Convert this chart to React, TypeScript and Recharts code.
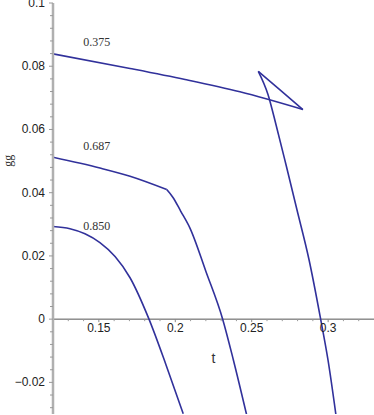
import React from "react";
import {
  LineChart,
  Line,
  XAxis,
  YAxis,
  ReferenceLine,
  ReferenceDot,
} from "recharts";

// swallowtail curve (0.375) split in its three branches
const upperBranch = [
  { t: 0.12, g: 0.0839 },
  { t: 0.1704, g: 0.0793 },
  { t: 0.2064, g: 0.0758 },
  { t: 0.2423, g: 0.0719 },
  { t: 0.2835, g: 0.0663 },
];
const returnBranch = [
  { t: 0.2835, g: 0.0663 },
  { t: 0.2685, g: 0.0725 },
  { t: 0.2543, g: 0.0784 },
];
const dropBranch = [
  { t: 0.2543, g: 0.0784 },
  { t: 0.2607, g: 0.071 },
  { t: 0.2659, g: 0.0615 },
  { t: 0.2724, g: 0.0489 },
  { t: 0.2796, g: 0.0346 },
  { t: 0.2875, g: 0.0188 },
  { t: 0.2951, g: 0 },
  { t: 0.2999, g: -0.0129 },
  { t: 0.3051, g: -0.0303 },
];
// 0.687 curve: gentle part up to the kink, then the steep part
const curve687Top = [
  { t: 0.12, g: 0.0512 },
  { t: 0.1507, g: 0.0478 },
  { t: 0.1704, g: 0.0452 },
  { t: 0.1944, g: 0.041 },
];
const curve687Drop = [
  { t: 0.1944, g: 0.041 },
  { t: 0.1985, g: 0.0385 },
  { t: 0.2035, g: 0.0342 },
  { t: 0.2096, g: 0.0288 },
  { t: 0.2201, g: 0.015 },
  { t: 0.231, g: 0 },
  { t: 0.238, g: -0.0129 },
  { t: 0.2467, g: -0.0303 },
];
const curve850 = [
  { t: 0.12, g: 0.0293 },
  { t: 0.1311, g: 0.0286 },
  { t: 0.1409, g: 0.027 },
  { t: 0.1507, g: 0.0242 },
  { t: 0.1606, g: 0.0198 },
  { t: 0.1704, g: 0.0131 },
  { t: 0.1828, g: 0 },
  { t: 0.1939, g: -0.0144 },
  { t: 0.2052, g: -0.0299 },
];

const curveLabels = ["0.375", "0.687", "0.850"];
const labelT = [0.1486, 0.1486, 0.1486];
const labelG = [0.0876, 0.0549, 0.0296];

const xTicks = [0.15, 0.2, 0.25, 0.3];
const xMinor = [0.13, 0.14, 0.16, 0.17, 0.18, 0.19, 0.21, 0.22, 0.23, 0.24, 0.26, 0.27, 0.28, 0.29, 0.31, 0.32];
const yMajor = [-0.02, 0, 0.02, 0.04, 0.06, 0.08, 0.1];
const yTicks: number[] = [];
for (let i = -7; i <= 25; i++) yTicks.push(Number((i * 0.004).toFixed(3)));

const BLUE = "#31319b";
const sans = "'Liberation Sans', Arial, sans-serif";
const serif = "'Liberation Serif', 'Times New Roman', serif";

const isMajor = (v: number) => yMajor.some((m) => Math.abs(m - v) < 1e-6);
const fmt = (v: number) => {
  if (Math.abs(v) < 1e-9) return "0";
  const s = String(Number(Math.abs(v).toFixed(3)));
  return v < 0 ? "\u22120" + s.slice(1) : s;
};

function YTick(props: any) {
  const { x, y, payload } = props;
  const v = payload.value;
  const major = isMajor(v);
  return (
    <g>
      <line x1={x + (major ? 4 : 5)} x2={x + 8} y1={y} y2={y} stroke="#999" strokeWidth={1} />
      {major && (
        <text x={x} y={y} dy={4} textAnchor="end" fontFamily={sans} fontSize={12} fill="#222">
          {fmt(v)}
        </text>
      )}
    </g>
  );
}

const minorShape = (p: any) => (
  <line x1={p.cx} x2={p.cx} y1={p.cy} y2={p.cy + 2} stroke="#999" strokeWidth={1} />
);
const majorShape = (p: any) => (
  <line x1={p.cx} x2={p.cx} y1={p.cy} y2={p.cy + 3} stroke="#888" strokeWidth={1} />
);

const lineProps = { dataKey: "g", stroke: BLUE, strokeWidth: 1.6, dot: false, isAnimationActive: false } as const;

export default function App() {
  return (
    <div style={{ position: "absolute", left: 0, top: 0, background: "#fff" }}>
      <LineChart width={374} height={415} margin={{ top: 3, right: 0, bottom: 1, left: 0 }}>
        <XAxis type="number" dataKey="t" domain={[0.12, 0.33]} allowDataOverflow hide />
        <YAxis
          type="number"
          dataKey="g"
          domain={[-0.03, 0.1]}
          allowDataOverflow
          ticks={yTicks}
          interval={0}
          width={53}
          tickSize={4}
          tickMargin={4}
          tickLine={false}
          axisLine={{ stroke: "#b0b0b0", strokeWidth: 2.5 }}
          tick={<YTick />}
        />
        <ReferenceLine y={0} stroke="#555" strokeWidth={1} />
        {xMinor.map((t) => (
          <ReferenceDot key={"m" + t} x={t} y={0} r={0} shape={minorShape} />
        ))}
        {xTicks.map((t) => (
          <ReferenceDot
            key={"x" + t}
            x={t}
            y={0}
            r={0}
            shape={majorShape}
            label={{ value: String(t), position: "bottom", offset: 4, fontFamily: sans, fontSize: 12, fill: "#222" }}
          />
        ))}
        <Line data={upperBranch} type="monotone" {...lineProps} />
        <Line data={returnBranch} type="linear" {...lineProps} />
        <Line data={dropBranch} type="monotone" {...lineProps} />
        <Line data={curve687Top} type="monotone" {...lineProps} />
        <Line data={curve687Drop} type="monotone" {...lineProps} />
        <Line data={curve850} type="monotone" {...lineProps} />
        {curveLabels.map((s, i) => (
          <ReferenceDot
            key={s}
            x={labelT[i]}
            y={labelG[i]}
            r={0}
            label={{ value: s, position: "center", fontFamily: serif, fontSize: 12, fill: "#333" }}
          />
        ))}
        <ReferenceDot
          x={0.2249}
          y={-0.0123}
          r={0}
          label={{ value: "t", position: "center", fontFamily: sans, fontSize: 14, fill: "#333" }}
        />
        <ReferenceDot
          x={0.0906}
          y={0.0501}
          r={0}
          ifOverflow="visible"
          label={{ value: "gg", position: "center", angle: -90, fontFamily: serif, fontSize: 12, fill: "#333" }}
        />
      </LineChart>
    </div>
  );
}
